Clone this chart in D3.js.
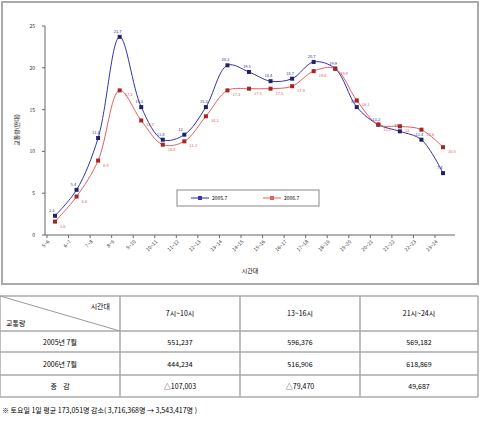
<!DOCTYPE html>
<html><head><meta charset="utf-8">
<script src="https://cdn.jsdelivr.net/npm/d3@7"></script>
<style>body{margin:0;background:#fff;font-family:"Noto Sans CJK KR",sans-serif;}</style>
</head><body>
<script>
var hours = ["5~6","6~7","7~8","8~9","9~10","10~11","11~12","12~13","13~14","14~15","15~16","16~17","17~18","18~19","19~20","20~21","21~22","22~23","23~24"];
var s2005 = [2.3,5.4,11.6,23.7,15.3,11.4,12.0,15.3,20.3,19.5,18.4,18.7,20.7,19.9,15.3,13.2,12.4,11.4,7.4];
var s2006 = [1.6,4.6,8.9,17.3,13.7,10.8,11.2,14.2,17.3,17.5,17.5,17.8,19.6,19.9,16.1,13.2,13.0,12.6,10.5];
var seriesNames = ["2005.7","2006.7"];
var yTicks = [0,5,10,15,20,25];
var tableHead = ["7시~10시","13~16시","21시~24시"];
var rowNames = ["2005년 7월","2006년 7월","증    감"];
var tableRows = [["551,237","596,376","569,182"],["444,234","516,906","618,869"],["△107,003","△79,470","49,687"]];
var note = "※ 토요일 1일 평균 173,051명 감소( 3,716,368명 → 3,543,417명 )";

var W = 480, H = 422;
var svg = d3.select("body").append("svg").attr("width", W).attr("height", H);
svg.append("rect").attr("x",2).attr("y",2).attr("width",476).attr("height",282)
  .attr("fill","#fff").attr("stroke","#aaa").attr("stroke-width",2);

var x = d3.scalePoint().domain(hours).range([55, 443]);
var y = d3.scaleLinear().domain([0,25]).range([235, 26]);

var g = svg.append("g");
g.append("line").attr("x1",45).attr("x2",455).attr("y1",235).attr("y2",235).attr("stroke","#666");
g.append("line").attr("x1",45).attr("x2",45).attr("y1",26).attr("y2",235).attr("stroke","#666");
yTicks.forEach(function(t){
  g.append("text").attr("x",35).attr("y",y(t)+2).attr("font-size",5).attr("text-anchor","end").attr("fill","#333").text(t);
  g.append("line").attr("x1",42).attr("x2",45).attr("y1",y(t)).attr("y2",y(t)).attr("stroke","#666");
});
hours.forEach(function(h){
  var px = x(h) - 8;
  g.append("line").attr("x1",px).attr("x2",px).attr("y1",235).attr("y2",238).attr("stroke","#666");
  g.append("text").attr("transform","translate("+(px+3)+",242) rotate(-45)")
    .attr("font-size",5).attr("text-anchor","end").attr("fill","#333").text(h);
});
g.append("text").attr("x",250).attr("y",273).attr("font-size",6).attr("text-anchor","middle").text("시간대");
g.append("text").attr("transform","translate(19,130) rotate(-90)").attr("font-size",6).attr("text-anchor","middle").text("교통량(만대)");

var line = d3.line().curve(d3.curveCatmullRom).x(function(d,i){return x(hours[i]);}).y(function(d){return y(d);});
[[s2005,"#3333aa","#222266"],[s2006,"#e06060","#aa2222"]].forEach(function(s,k){
  g.append("path").attr("d", line(s[0])).attr("fill","none").attr("stroke",s[1]).attr("stroke-width",1);
  g.selectAll(null).data(s[0]).enter().append("rect")
    .attr("x",function(d,i){return x(hours[i])-2;}).attr("y",function(d){return y(d)-2;})
    .attr("width",4).attr("height",4).attr("fill",s[2]);
  g.selectAll(null).data(s[0]).enter().append("text")
    .attr("x",function(d,i){return x(hours[i])+(k?5:-6);}).attr("y",function(d){return y(d)+(k?6:-4);})
    .attr("font-size",4).attr("fill",s[1]).text(function(d){return d;});
});

var lg = svg.append("g").attr("transform","translate(177,190)");
lg.append("rect").attr("width",142).attr("height",16).attr("fill","#fff").attr("stroke","#888");
seriesNames.forEach(function(n,i){
  var c = i ? "#e06060" : "#3333aa";
  lg.append("line").attr("x1",14+i*72).attr("x2",32+i*72).attr("y1",8).attr("y2",8).attr("stroke",c);
  lg.append("rect").attr("x",21+i*72).attr("y",6).attr("width",4).attr("height",4).attr("fill",c);
  lg.append("text").attr("x",35+i*72).attr("y",10).attr("font-size",5).text(n);
});

var tb = svg.append("g");
var rowY = [296,331,352,375,397];
var colX = [0,120,240,360,478];
rowY.forEach(function(ry){ tb.append("line").attr("x1",0).attr("x2",478).attr("y1",ry).attr("y2",ry).attr("stroke","#aaa").attr("stroke-width",1.5); });
colX.forEach(function(cx){ tb.append("line").attr("x1",cx).attr("x2",cx).attr("y1",296).attr("y2",397).attr("stroke","#aaa").attr("stroke-width",1.5); });
tb.append("line").attr("x1",0).attr("x2",120).attr("y1",296).attr("y2",331).attr("stroke","#999");
tb.append("text").attr("x",110).attr("y",309).attr("font-size",7).attr("text-anchor","end").text("시간대");
tb.append("text").attr("x",6).attr("y",326).attr("font-size",7).text("교통량");
tableHead.forEach(function(h,i){
  tb.append("text").attr("x",(colX[i+1]+colX[i+2])/2).attr("y",316).attr("font-size",7).attr("text-anchor","middle").text(h);
});
rowNames.forEach(function(r,j){
  var cy = (rowY[j+1]+rowY[j+2])/2 + 3;
  tb.append("text").attr("x",60).attr("y",cy).attr("font-size",7).attr("text-anchor","middle").attr("xml:space","preserve").text(r);
  tableRows[j].forEach(function(v,i){
    tb.append("text").attr("x",(colX[i+1]+colX[i+2])/2).attr("y",cy).attr("font-size",7).attr("text-anchor","middle").text(v);
  });
});
svg.append("text").attr("x",2).attr("y",413).attr("font-size",7).text(note);
</script>
</body></html>
